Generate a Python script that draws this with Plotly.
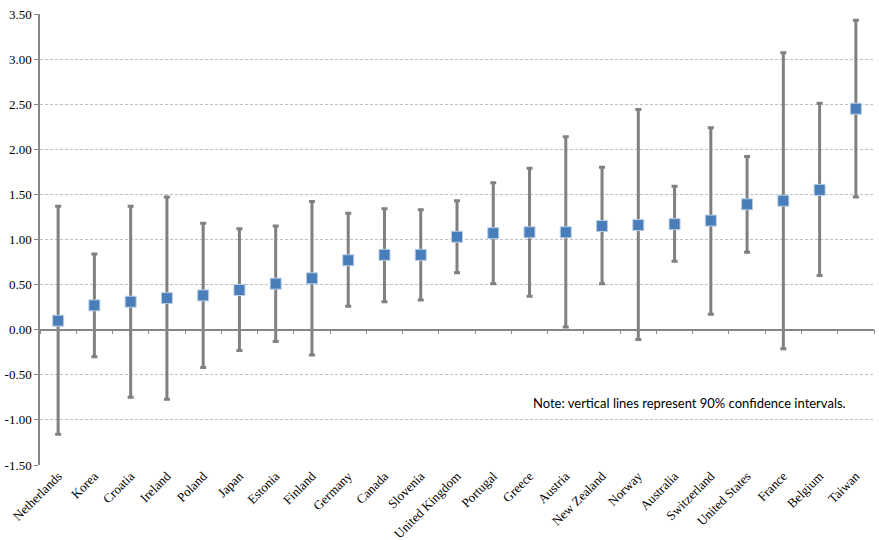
import plotly.graph_objects as go

countries = ["Netherlands", "Korea", "Croatia", "Ireland", "Poland", "Japan", "Estonia",
             "Finland", "Germany", "Canada", "Slovenia", "United Kingdom", "Portugal",
             "Greece", "Austria", "New Zealand", "Norway", "Australia", "Switzerland",
             "United States", "France", "Belgium", "Taiwan"]
estimate = [0.10, 0.27, 0.31, 0.35, 0.38, 0.44, 0.51, 0.57, 0.77, 0.83, 0.83, 1.03, 1.07,
            1.08, 1.08, 1.15, 1.16, 1.17, 1.21, 1.39, 1.43, 1.55, 2.45]
upper = [1.37, 0.84, 1.37, 1.47, 1.18, 1.12, 1.15, 1.42, 1.29, 1.34, 1.33, 1.43, 1.63,
         1.79, 2.14, 1.80, 2.44, 1.59, 2.24, 1.92, 3.07, 2.51, 3.43]
lower = [-1.16, -0.30, -0.75, -0.77, -0.42, -0.23, -0.13, -0.28, 0.26, 0.31, 0.33, 0.63,
         0.51, 0.37, 0.03, 0.51, -0.11, 0.76, 0.17, 0.86, -0.21, 0.60, 1.47]
y_ticks = [-1.5, -1.0, -0.5, 0.0, 0.5, 1.0, 1.5, 2.0, 2.5, 3.0, 3.5]
y_tick_text = ["-1.50", "-1.00", "-0.50", "0.00", "0.50", "1.00", "1.50", "2.00", "2.50", "3.00", "3.50"]
note = "Note: vertical lines represent 90% confidence intervals."

err_plus = [u - e for u, e in zip(upper, estimate)]
err_minus = [e - l for e, l in zip(estimate, lower)]

serif = "Liberation Serif"

fig = go.Figure()
fig.add_trace(go.Scatter(
    x=countries, y=estimate, mode="markers",
    marker=dict(symbol="square", size=11, color="#4A7EBB",
                line=dict(color="#B9CDE5", width=1)),
    error_y=dict(type="data", symmetric=False, array=err_plus, arrayminus=err_minus,
                 color="#808080", thickness=3, width=3),
    showlegend=False, hoverinfo="x+y",
))
# invisible trace to drive the axis drawn at zero
fig.add_trace(go.Scatter(x=countries, y=estimate, xaxis="x2", mode="markers",
                         marker=dict(opacity=0), showlegend=False, hoverinfo="skip"))

fig.update_layout(
    width=879, height=540,
    margin=dict(l=40, r=5, t=14, b=75, autoexpand=False),
    plot_bgcolor="white", paper_bgcolor="white",
    xaxis=dict(
        type="category", range=[-0.5, len(countries) - 0.5], automargin=False,
        showline=False, showgrid=False, zeroline=False, ticks="",
        tickangle=-45, tickfont=dict(family=serif, size=13, color="#000000"),
    ),
    xaxis2=dict(
        type="category", range=[-0.5, len(countries) - 0.5],
        overlaying="x", anchor="free", position=0.3, side="bottom",
        showline=True, linecolor="#868686", linewidth=1.5,
        ticks="outside", ticklen=4, tickcolor="#868686", tickwidth=1,
        tickson="boundaries", showticklabels=False, showgrid=False, zeroline=False,
    ),
    yaxis=dict(
        range=[-1.5, 3.5], tickvals=y_ticks, ticktext=y_tick_text, automargin=False,
        showline=True, linecolor="#868686", linewidth=1.5,
        ticks="outside", ticklen=4, tickcolor="#868686",
        showgrid=True, gridcolor="#C0C0C0", gridwidth=1, griddash="3px,2px",
        zeroline=False,
        tickfont=dict(family=serif, size=13, color="#000000"),
    ),
    annotations=[dict(
        text=note, xref="paper", yref="y", x=0.969, y=-0.81,
        xanchor="right", yanchor="middle", showarrow=False,
        font=dict(family="Lato", size=13, color="#000000"),
    )],
)

fig.write_html("out.html", config={"displayModeBar": False},
               post_script="document.body.style.margin='0';document.body.style.overflow='hidden';")
